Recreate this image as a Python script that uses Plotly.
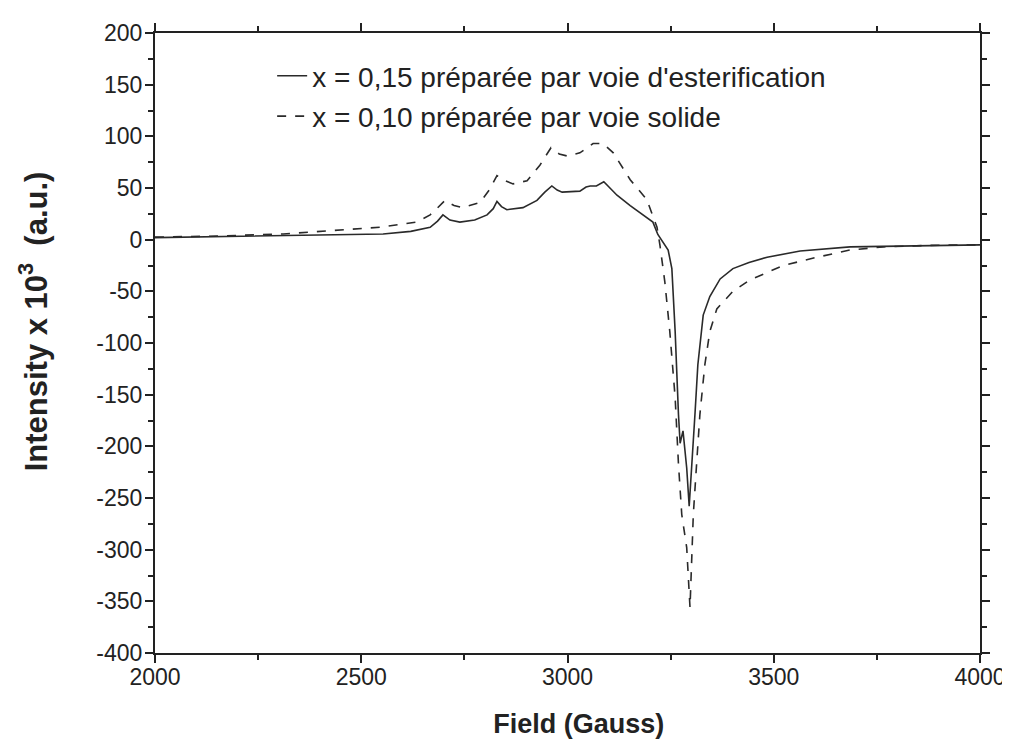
import plotly.graph_objects as go

# x = 0,15 (voie d'esterification), trait plein
field_a = [2000, 2150, 2311, 2450, 2553, 2620, 2667, 2685, 2698, 2715, 2739, 2775, 2805, 2820, 2829,
           2840, 2853, 2892, 2926, 2945, 2962, 2975, 2987, 3030, 3045, 3055, 3070, 3088, 3103, 3120,
           3152, 3183, 3207, 3219, 3244, 3253, 3261, 3269, 3273, 3280, 3289, 3295, 3301, 3309, 3316,
           3329, 3345, 3370, 3401, 3440, 3484, 3564, 3685, 3806, 4000]
int_a = [2, 3, 4.5, 5, 5.5, 8, 12, 18, 24, 19, 17, 19, 24, 30, 37,
         32, 29, 31, 38, 46, 52, 48, 46, 47, 51, 52, 52, 56, 50, 43,
         33, 24, 17, 5, -10, -28, -89, -169, -197, -185, -221, -258, -224, -169, -121,
         -73, -55, -38, -28, -22, -17, -11, -7, -6, -5]

# x = 0,10 (voie solide), tirets
field_b = [2000, 2150, 2311, 2473, 2545, 2635, 2667, 2683, 2703, 2725, 2745, 2788, 2810, 2829, 2850,
           2868, 2902, 2933, 2960, 2980, 2999, 3030, 3062, 3086, 3111, 3152, 3192, 3217, 3224, 3236,
           3248, 3261, 3269, 3277, 3289, 3297, 3301, 3305, 3313, 3321, 3333, 3345, 3362, 3386, 3401,
           3442, 3523, 3605, 3685, 3765, 3880, 4000]
int_b = [2.5, 3.5, 5.5, 10, 12, 17, 24, 30, 38, 33, 31, 36, 48, 62, 57,
         54, 57, 72, 89, 83, 81, 84, 93, 93, 84, 58, 39, 12, -5, -41,
         -89, -153, -217, -266, -298, -356, -313, -266, -217, -169, -121, -89, -67, -56, -50,
         -39, -25, -17, -10, -7, -5.5, -5]

names = ["x = 0,15 préparée par voie d'esterification",
         "x = 0,10 préparée par voie solide"]

# graduations de l'axe y, avec un tiret simple comme signe moins
y_ticks = [-400, -350, -300, -250, -200, -150, -100, -50, 0, 50, 100, 150, 200]
y_labels = ['-400', '-350', '-300', '-250', '-200', '-150', '-100', '-50', '0', '50', '100', '150', '200']

fig = go.Figure()
fig.add_trace(go.Scatter(x=field_a, y=int_a, mode='lines', name=names[0], legendgroup='a',
                         line=dict(color='#2a2a2a', width=1.6)))
fig.add_trace(go.Scatter(x=field_b, y=int_b, mode='lines', name=names[1], legendgroup='b',
                         line=dict(color='#2a2a2a', width=1.6, dash='dash')))

axis_common = dict(showline=True, linecolor='#222', linewidth=2, mirror='ticks',
                   ticks='outside', ticklen=8, tickwidth=1.5, tickcolor='#222',
                   showgrid=False, zeroline=False,
                   tickfont=dict(family='Liberation Sans', size=23, color='#222'))
minor_common = dict(ticks='outside', ticklen=5, tickwidth=1.5, tickcolor='#222')

# la page html ajoute 8px de marge au body, d'où les marges décalées
fig.update_layout(
    width=1010, height=749,
    paper_bgcolor='white', plot_bgcolor='white',
    margin=dict(l=147, r=38, t=22, b=104),
    font=dict(family='Liberation Sans', color='#222'),
    xaxis=dict(range=[2000, 4000], dtick=500, ticklabelstandoff=-6,
               minor=dict(dtick=250, **minor_common),
               title=dict(text='&nbsp;&nbsp;&nbsp;<b>Field (Gauss)</b>', font=dict(size=27), standoff=26),
               **axis_common),
    yaxis=dict(range=[-400, 200], tickmode='array', tickvals=y_ticks, ticktext=y_labels,
               ticklabelstandoff=-2,
               minor=dict(dtick=25, **minor_common),
               title=dict(text='&nbsp;&nbsp;&nbsp;&nbsp;&nbsp;<b>Intensity x 10<sup>3</sup>&nbsp;&nbsp;(a.u.)</b>',
                          font=dict(size=31), standoff=40),
               **axis_common),
    legend=dict(x=0.142, y=0.971, xanchor='left', yanchor='top',
                bgcolor='rgba(0,0,0,0)', font=dict(size=28, color='#222'),
                tracegroupgap=1),
)

fig.write_html("out.html")
